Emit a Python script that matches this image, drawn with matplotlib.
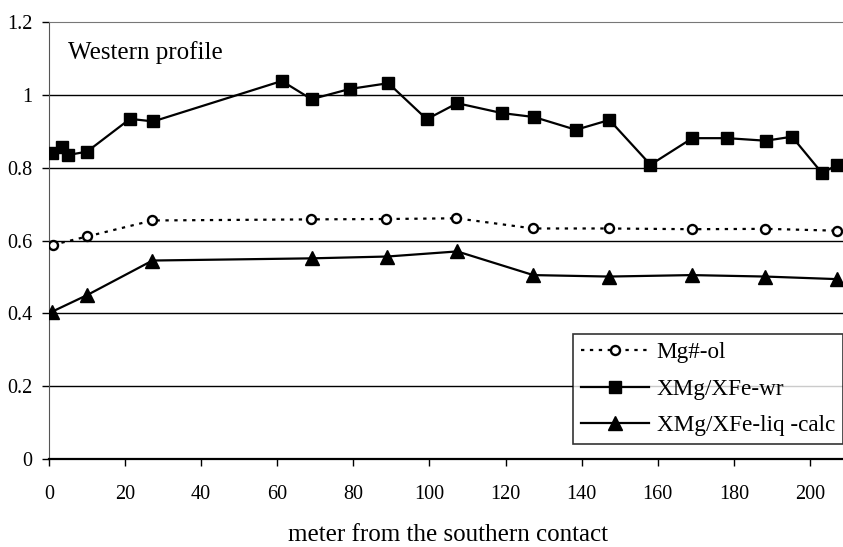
import matplotlib
matplotlib.use("Agg")
import matplotlib.pyplot as plt

plt.rcParams["font.family"] = ["Liberation Serif", "DejaVu Serif"]

# Mg#-ol (olivine)
x_ol = [1.0, 10.0, 27.2, 68.8, 88.7, 107.1, 127.3, 147.2, 169.1, 188.3, 207.0]
y_ol = [0.588, 0.611, 0.655, 0.658, 0.659, 0.661, 0.633, 0.633, 0.631, 0.632, 0.627]

# XMg/XFe whole rock
x_wr = [0.7, 3.3, 5.1, 10.0, 21.3, 27.4, 61.2, 69.0, 79.0, 89.2, 99.3, 107.3,
        119.0, 127.5, 138.5, 147.3, 158.1, 169.1, 178.3, 188.4, 195.3, 203.2, 207.2]
y_wr = [0.840, 0.858, 0.835, 0.844, 0.934, 0.927, 1.038, 0.988, 1.016, 1.032, 0.933, 0.977,
        0.950, 0.939, 0.904, 0.931, 0.808, 0.881, 0.881, 0.874, 0.885, 0.785, 0.808]

# XMg/XFe liquid calculated
x_liq = [0.9, 10.0, 27.2, 69.0, 88.9, 107.3, 127.3, 147.2, 168.9, 188.3, 207.0]
y_liq = [0.405, 0.450, 0.545, 0.551, 0.556, 0.570, 0.505, 0.501, 0.505, 0.501, 0.494]

x_ticks = [0, 20, 40, 60, 80, 100, 120, 140, 160, 180, 200]
y_ticks = [0, 0.2, 0.4, 0.6, 0.8, 1.0, 1.2]
y_labels = ["0", "0.2", "0.4", "0.6", "0.8", "1", "1.2"]

fig = plt.figure(figsize=(8.43, 5.47), dpi=100)
ax = fig.add_axes([49 / 843, 1 - 459 / 547, (843 - 49) / 843, (459 - 22) / 547])

for y in y_ticks[1:-1]:
    ax.axhline(y, color="black", lw=1.0, zorder=1)

ax.plot(x_ol, y_ol, ls=(0, (1.5, 2.5)), color="black", lw=1.6, marker="o",
        ms=6.5, mfc="white", mec="black", mew=1.7, label="Mg#-ol", zorder=3)
ax.plot(x_wr, y_wr, ls="-", color="black", lw=1.6, marker="s", ms=9,
        label="XMg/XFe-wr", zorder=3)
ax.plot(x_liq, y_liq, ls="-", color="black", lw=1.6, marker="^", ms=9.5,
        label="XMg/XFe-liq -calc", zorder=3)

ax.set_xlim(0, 208.7)
ax.set_ylim(0, 1.2)
ax.set_xticks(x_ticks)
ax.set_yticks(y_ticks)
ax.set_yticklabels(y_labels)
ax.tick_params(axis="both", labelsize=14.5, length=5, width=1, color="black")
ax.tick_params(axis="x", pad=14)
ax.tick_params(axis="y", pad=7)

ax.spines["right"].set_visible(False)
ax.spines["top"].set_color("#777777")
ax.spines["top"].set_linestyle((0, (1, 1)))
ax.spines["left"].set_color("#555555")
ax.spines["left"].set_linestyle((0, (1, 1)))
ax.spines["bottom"].set_linewidth(1.6)

ax.text(0.024, 0.931, "Western profile", transform=ax.transAxes, fontsize=18,
        va="center", ha="left")
fig.text(448 / 843, (547 - 535) / 547,
         "meter from the southern contact", fontsize=18, ha="center", va="center")

leg = ax.legend(loc="lower right", bbox_to_anchor=(1.0, 0.034), borderaxespad=0,
                fontsize=16.7, frameon=True, fancybox=False, edgecolor="black",
                handlelength=2.9, borderpad=0.35, labelspacing=0.65,
                handletextpad=0.35)
leg.get_frame().set_linewidth(1.2)

fig.savefig("out.png", dpi=100)
